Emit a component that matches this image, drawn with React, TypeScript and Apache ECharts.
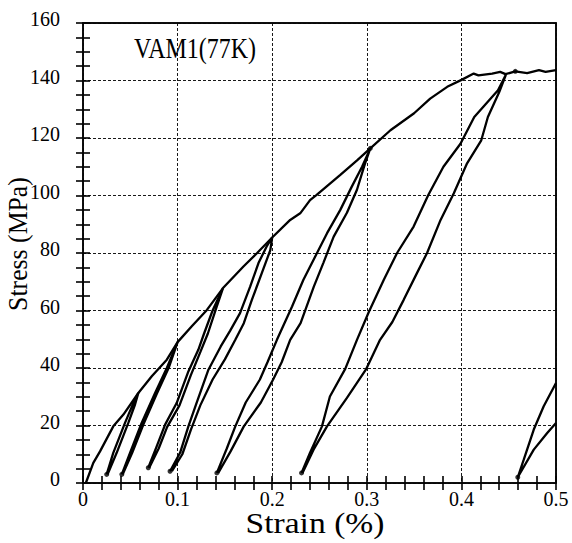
import React, { useEffect, useRef } from "react";
import * as echarts from "echarts";

// Strain (%) , Stress (MPa)
const envelope: number[][] = [
  [0.003, 0], [0.0109, 7], [0.018, 11], [0.032, 19.7], [0.0427, 23.8], [0.0585, 31.3],
  [0.0727, 37.1], [0.0886, 42.9], [0.1, 49], [0.115, 54.5], [0.131, 60.2], [0.148, 67.8],
  [0.1696, 75.3], [0.1838, 79.9], [0.2, 85.4], [0.219, 91.5], [0.2296, 93.8], [0.24, 98.4],
  [0.247, 100.2], [0.272, 107.2], [0.29, 112.3], [0.3037, 116.4], [0.325, 122.7],
  [0.35, 128.6], [0.367, 133.7], [0.385, 137.8], [0.4007, 140.3], [0.413, 142.4],
  [0.418, 141.8], [0.4325, 142.4], [0.441, 143], [0.4466, 142.2], [0.457, 143.2],
  [0.4695, 142.6], [0.482, 143.6], [0.489, 143], [0.5, 143.6],
];

const loop1: number[][] = [
  [0.025, 3], [0.032, 10.5], [0.0444, 20.9], [0.0532, 27.8], [0.0585, 31.3],
  [0.055, 27.3], [0.0479, 20.9], [0.0356, 10.5], [0.026, 3],
];
const loop2: number[][] = [
  [0.041, 3], [0.0497, 10.5], [0.062, 20.9], [0.0762, 31.3], [0.0886, 40], [0.1, 49],
  [0.0905, 40], [0.078, 31], [0.064, 20.5], [0.052, 10.5], [0.042, 3],
];
const loop3: number[][] = [
  [0.069, 5.3], [0.078, 12.8], [0.0868, 20.3], [0.099, 27.8], [0.1114, 38.8], [0.122, 46.4],
  [0.128, 52], [0.137, 60], [0.148, 67.8], [0.141, 61], [0.132, 52], [0.124, 45.5],
  [0.114, 37.5], [0.102, 27], [0.089, 19.5], [0.08, 12], [0.07, 5.3],
];
const loop4: number[][] = [
  [0.092, 4.1], [0.1026, 10.5], [0.1114, 19.7], [0.12, 27.8], [0.1326, 39.4], [0.1456, 47.5],
  [0.1556, 53], [0.166, 59.1], [0.1767, 68.3], [0.1855, 76.5], [0.194, 82.2], [0.2, 85.4],
  [0.198, 81], [0.189, 73], [0.1785, 63.7], [0.17, 55.6], [0.161, 49.8], [0.15, 43],
  [0.137, 36], [0.124, 27], [0.114, 18.5], [0.105, 10], [0.094, 4.1],
];
const loop5: number[][] = [
  [0.1415, 3.5], [0.152, 12], [0.161, 19.7], [0.172, 28], [0.187, 36], [0.195, 42],
  [0.205, 49.8], [0.221, 61.4], [0.233, 70.7], [0.2455, 78.8], [0.258, 86.9], [0.272, 95],
  [0.284, 103], [0.295, 110], [0.3037, 116.4],
  [0.298, 111], [0.2896, 102], [0.279, 94], [0.265, 85.7], [0.254, 76.5], [0.244, 68.3],
  [0.23, 55.6], [0.219, 49.8], [0.21, 42], [0.201, 36], [0.188, 28], [0.17, 19.7],
  [0.156, 11], [0.143, 3.5],
];
const loop6: number[][] = [
  [0.231, 3.5], [0.24, 10.5], [0.2526, 19.7], [0.261, 30.1], [0.2772, 39.7], [0.2896, 49.8],
  [0.302, 59.4], [0.318, 70.7], [0.332, 80], [0.3495, 89.2], [0.365, 100.2], [0.381, 110],
  [0.399, 118], [0.4136, 127.3], [0.4387, 136.6], [0.447, 142],
  [0.44, 136], [0.428, 127.3], [0.421, 119.2], [0.406, 111.2], [0.392, 100.8], [0.378, 91.5],
  [0.3637, 80], [0.353, 73], [0.339, 63.7], [0.327, 56], [0.314, 49.8], [0.2995, 39.7],
  [0.279, 29.6], [0.2579, 19.7], [0.2437, 11.6], [0.232, 3.5],
];
const loop7: number[][] = [
  [0.5, 34.8], [0.487, 26.7], [0.4765, 18.6], [0.466, 8.2], [0.4596, 2],
  [0.4765, 11.6], [0.4907, 17.4], [0.5, 20.9],
];
const dots: number[][] = [
  [0.025, 3], [0.041, 3], [0.069, 5.3], [0.092, 4.1], [0.1415, 3.5], [0.231, 3.5],
  [0.4596, 2], [0.3037, 116.4], [0.457, 143.2],
];

const titleText = "VAM1(77K)";
const xTitle = "Strain (%)";
const yTitle = "Stress (MPa)";

const curves = [envelope, loop1, loop2, loop3, loop4, loop5, loop6, loop7];

const FONT = "'Liberation Serif', 'Times New Roman', serif";

export default function App() {
  const ref = useRef<HTMLDivElement>(null);
  useEffect(() => {
    if (!ref.current) return;
    const chart = echarts.init(ref.current, undefined, { renderer: "svg" });
    const black = "#000";
    const lineAxis = {
      type: "value" as const,
      axisLine: { show: true, onZero: false, lineStyle: { color: black, width: 1.5 } },
      axisTick: { show: false },
      minorTick: { show: false },
    };
    const tickAxis = {
      type: "value" as const,
      axisLine: { show: false },
      axisTick: { show: true, inside: true, length: 7, lineStyle: { color: black, width: 1.6 } },
      axisLabel: { show: false },
      splitLine: { show: false },
    };
    const gridLine = { show: true, lineStyle: { color: "#1a1a1a", width: 1, type: [3, 2] as any } };
    const xr = { min: 0, max: 0.5 };
    const yr = { min: 0, max: 160 };
    chart.setOption({
      animation: false,
      backgroundColor: "#fff",
      grid: {
        left: 83, right: 16, top: 23, bottom: 60,
        show: true, borderColor: black, borderWidth: 1.5, backgroundColor: "transparent",
      },
      xAxis: [
        {
          ...lineAxis, ...xr, interval: 0.1, position: "bottom",
          axisLabel: {
            margin: 6, color: black, fontSize: 20, fontFamily: FONT,
            formatter: (v: number) => (v === 0 ? "0" : v.toFixed(1)),
          },
          splitLine: gridLine,
        },
        { ...lineAxis, ...xr, interval: 0.1, position: "top", axisLabel: { show: false }, splitLine: { show: false } },
        { ...tickAxis, ...xr, interval: 0.02, position: "bottom" },
        { ...tickAxis, ...xr, interval: 0.02, position: "top" },
      ],
      yAxis: [
        {
          ...lineAxis, ...yr, interval: 20, position: "left",
          axisLabel: {
            margin: 23, color: black, fontSize: 20, fontFamily: FONT,
            verticalAlign: "bottom", lineHeight: 8,
          },
          splitLine: gridLine,
        },
        { ...lineAxis, ...yr, interval: 20, position: "right", axisLabel: { show: false }, splitLine: { show: false } },
        { ...tickAxis, ...yr, interval: 5, position: "left" },
        { ...tickAxis, ...yr, interval: 5, position: "right" },
      ],
      series: [
        ...curves.map((d) => ({
          type: "line",
          xAxisIndex: 0,
          yAxisIndex: 0,
          data: d,
          showSymbol: false,
          symbol: "none",
          lineStyle: { color: black, width: 2.3 },
          clip: true,
          silent: true,
        })),
        {
          type: "scatter",
          xAxisIndex: 0,
          yAxisIndex: 0,
          data: dots,
          symbolSize: 5,
          itemStyle: { color: black },
          silent: true,
        },
      ],
      graphic: [
        {
          type: "text", x: 195, y: 48, scaleX: 0.8,
          style: {
            text: titleText, fontSize: 30, fontFamily: FONT, fill: black,
            align: "center", verticalAlign: "middle", textAlign: "center", textVerticalAlign: "middle",
          },
        },
        {
          type: "text", x: 315, y: 523, scaleX: 1.12,
          style: {
            text: xTitle, fontSize: 30, fontFamily: FONT, fill: black,
            align: "center", verticalAlign: "middle", textAlign: "center", textVerticalAlign: "middle",
          },
        },
        {
          type: "text", x: 18, y: 244, rotation: Math.PI / 2, scaleX: 0.92,
          style: {
            text: yTitle, fontSize: 28, fontFamily: FONT, fill: black,
            align: "center", verticalAlign: "middle", textAlign: "center", textVerticalAlign: "middle",
          },
        },
      ],
    });
    return () => chart.dispose();
  }, []);
  return (
    <div
      ref={ref}
      style={{ position: "absolute", left: 0, top: 0, width: 572, height: 543 }}
    />
  );
}
